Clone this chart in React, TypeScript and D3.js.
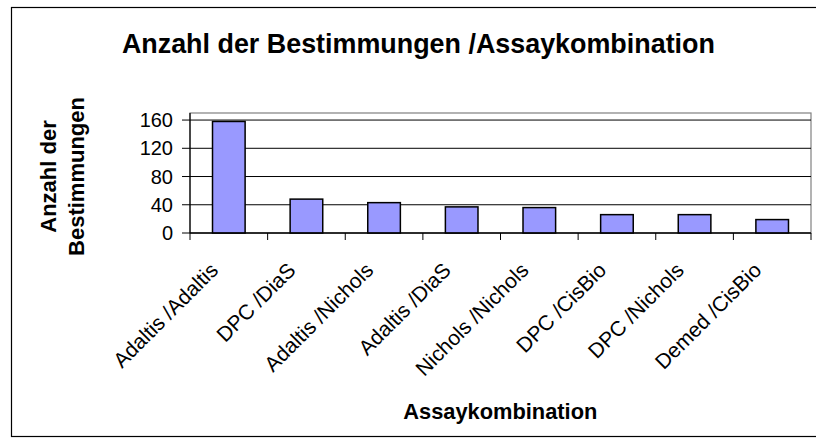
import React from "react";
import * as d3 from "d3";

const categories = [
  "Adaltis /Adaltis",
  "DPC /DiaS",
  "Adaltis /Nichols",
  "Adaltis /DiaS",
  "Nichols /Nichols",
  "DPC /CisBio",
  "DPC /Nichols",
  "Demed /CisBio",
];
const values = [158, 48, 43, 37, 36, 26, 26, 19];
const yTicks = [0, 40, 80, 120, 160];
const title = "Anzahl der Bestimmungen /Assaykombination";
const xTitle = "Assaykombination";
const yTitleLines = ["Anzahl der", "Bestimmungen"];

const W = 816;
const H = 443;
const FONT = "'Liberation Sans', Arial, Helvetica, sans-serif";

export default function App() {
  const left = 190;
  const right = 811;
  const top = 113;
  const bottom = 233;

  const x = d3
    .scaleBand<string>()
    .domain(categories)
    .range([left, right])
    .paddingInner(0.58)
    .paddingOuter(0.29);
  const y = d3.scaleLinear().domain([0, 170]).range([bottom, top]);
  const bw = x.bandwidth();

  const boundaries = d3.range(categories.length + 1).map((i) => left + i * ((right - left) / categories.length));

  return (
    <svg
      width={W}
      height={H}
      style={{ position: "absolute", left: 0, top: 0, background: "#fff" }}
      fontFamily={FONT}
    >
      <rect x={0} y={0} width={W} height={H} fill="#fff" />
      {/* chart area border */}
      <rect x={11.5} y={7.5} width={W + 10} height={429} fill="none" stroke="#000" strokeWidth={1.2} />

      {/* title */}
      <text
        x={418.4}
        y={53.3}
        textAnchor="middle"
        fontSize={28}
        fontWeight="bold"
        textLength={593}
        lengthAdjust="spacingAndGlyphs"
      >
        {title}
      </text>

      {/* plot area border */}
      <rect x={left} y={top} width={right - left} height={bottom - top} fill="none" stroke="#808080" strokeWidth={1.2} />

      {/* gridlines */}
      {yTicks.map((t) => (
        <line key={"g" + t} x1={left} x2={right} y1={y(t)} y2={y(t)} stroke="#000" strokeWidth={1} />
      ))}

      {/* bars */}
      {categories.map((c, i) => (
        <rect
          key={c}
          x={x(c)!}
          y={y(values[i])}
          width={bw}
          height={y(0) - y(values[i])}
          fill="#9999FF"
          stroke="#000"
          strokeWidth={1.5}
        />
      ))}

      {/* y axis */}
      <line x1={left} x2={left} y1={top} y2={bottom} stroke="#000" strokeWidth={1.2} />
      {yTicks.map((t) => (
        <g key={"yt" + t}>
          <line x1={left - 8} x2={left} y1={y(t)} y2={y(t)} stroke="#000" strokeWidth={1} />
          <text x={173} y={y(t)} dy="0.36em" textAnchor="end" fontSize={20}>
            {t}
          </text>
        </g>
      ))}

      {/* x axis */}
      <line x1={left} x2={right} y1={bottom} y2={bottom} stroke="#000" strokeWidth={1.2} />
      {boundaries.map((b, i) => (
        <line key={"xt" + i} x1={b} x2={b} y1={bottom} y2={bottom + 7} stroke="#000" strokeWidth={1} />
      ))}
      {categories.map((c) => {
        const cx = x(c)! + bw / 2 - 9.5;
        const cy = bottom + 38.5;
        return (
          <text
            key={"l" + c}
            transform={`translate(${cx},${cy}) rotate(-45)`}
            textAnchor="end"
            fontSize={21}
          >
            {c}
          </text>
        );
      })}

      {/* x title */}
      <text
        x={500.3}
        y={419.3}
        textAnchor="middle"
        fontSize={22}
        fontWeight="bold"
        textLength={194}
        lengthAdjust="spacingAndGlyphs"
      >
        {xTitle}
      </text>

      {/* y title */}
      {yTitleLines.map((l, i) => (
        <text
          key={"yl" + i}
          transform={`translate(${56 + i * 28},176.5) rotate(-90)`}
          textAnchor="middle"
          fontSize={22}
          fontWeight="bold"
        >
          {l}
        </text>
      ))}
    </svg>
  );
}
